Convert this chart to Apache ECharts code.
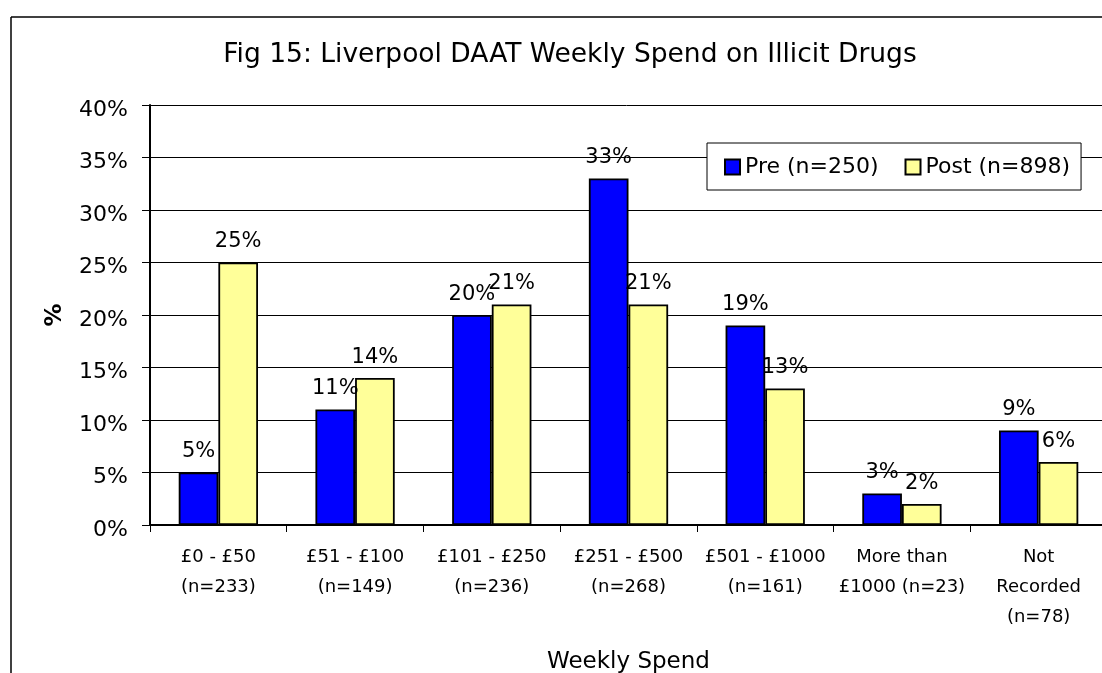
<!DOCTYPE html>
<html>
<head>
<meta charset="utf-8">
<script src="https://cdn.jsdelivr.net/npm/echarts@6/dist/echarts.min.js"></script>
<style>html,body{margin:0;padding:0;background:#fff}#c{width:1102px;height:673px}</style>
</head>
<body>
<div id="c"></div>
<script>
const categories = ["£0 - £50\n(n=233)", "£51 - £100\n(n=149)", "£101 - £250\n(n=236)", "£251 - £500\n(n=268)", "£501 - £1000\n(n=161)", "More than\n£1000 (n=23)", "Not\nRecorded\n(n=78)"];
const preValues = [5, 11, 20, 33, 19, 3, 9];
const postValues = [25, 14, 21, 21, 13, 2, 6];
const seriesNames = ["Pre (n=250)", "Post (n=898)"];
const yTicks = [0, 5, 10, 15, 20, 25, 30, 35, 40];

const FONT = "DejaVu Sans";
const chart = echarts.init(document.getElementById('c'));
const labelOpt = {show: true, position: 'top', distance: 10, formatter: '{c}%', fontFamily: FONT, fontSize: 21, color: '#000'};
chart.setOption({
  animation: false,
  backgroundColor: '#fff',
  textStyle: {fontFamily: FONT},
  title: {text: 'Fig 15: Liverpool DAAT Weekly Spend on Illicit Drugs', left: 565, textAlign: 'center', top: 37,
    textStyle: {fontFamily: FONT, fontSize: 26.5, fontWeight: 'normal', color: '#000'}},
  graphic: [
    {type: 'line', shape: {x1: 11, y1: 17, x2: 1102, y2: 17}, style: {stroke: '#000', lineWidth: 1.5}},
    {type: 'line', shape: {x1: 11, y1: 17, x2: 11, y2: 673}, style: {stroke: '#000', lineWidth: 1.5}}
  ],
  legend: {data: seriesNames, left: 707, top: 143, orient: 'horizontal', backgroundColor: '#fff', borderColor: '#000', borderWidth: 1,
    padding: [13, 11, 12, 17], itemWidth: 15, itemHeight: 15, itemGap: 26, z: 10, icon: 'rect',
    textStyle: {fontFamily: FONT, fontSize: 22, color: '#000'}},
  grid: {left: 150, top: 105, width: 957, height: 420, containLabel: false, outerBoundsMode: 'none'},
  xAxis: {type: 'category', data: categories, name: 'Weekly Spend', nameLocation: 'middle', nameGap: 126,
    nameTextStyle: {fontFamily: FONT, fontSize: 23, color: '#000'},
    axisLine: {lineStyle: {color: '#000', width: 2}},
    axisTick: {show: true, length: 7, lineStyle: {color: '#000', width: 1}},
    axisLabel: {margin: 17, fontFamily: FONT, fontSize: 18, lineHeight: 30, color: '#000', interval: 0}},
  yAxis: {type: 'value', min: 0, max: 40, interval: 5, name: '%', nameLocation: 'middle', nameGap: 83, nameRotate: 90,
    nameTextStyle: {fontFamily: FONT, fontSize: 23, color: '#000', fontWeight: 'bold'},
    axisLine: {show: true, lineStyle: {color: '#000', width: 2}},
    axisTick: {show: true, length: 8, lineStyle: {color: '#000', width: 1}},
    splitLine: {lineStyle: {color: '#000', width: 1}},
    axisLabel: {margin: 22, color: '#000', formatter: v => yTicks.includes(v) ? '{t|' + v + '%}' : '',
      rich: {t: {fontFamily: FONT, fontSize: 22, color: '#000', padding: [10, 0, 0, 0]}}}},
  series: [
    {name: seriesNames[0], type: 'bar', data: preValues, barGap: '0%', barCategoryGap: '42%',
      itemStyle: {color: '#0000FF', borderColor: '#000', borderWidth: 1.8}, label: labelOpt},
    {name: seriesNames[1], type: 'bar', data: postValues,
      itemStyle: {color: '#FFFF99', borderColor: '#000', borderWidth: 1.8}, label: labelOpt}
  ]
});
</script>
</body>
</html>
